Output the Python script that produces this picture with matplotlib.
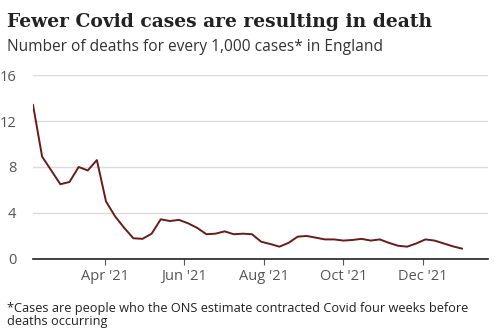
import numpy as np
import pandas as pd
import matplotlib
matplotlib.use("Agg")
import matplotlib.pyplot as plt
import matplotlib.dates as mdates

# weekly deaths per 1,000 cases, England
dates = pd.date_range("2021-02-05", periods=48, freq="7D")
deaths_per_1000 = [
    13.4, 8.9, 7.7, 6.5, 6.7, 8.0, 7.7, 8.6, 5.0, 3.7,
    2.7, 1.8, 1.75, 2.2, 3.45, 3.3, 3.4, 3.1, 2.7, 2.15,
    2.2, 2.4, 2.15, 2.2, 2.15, 1.5, 1.3, 1.07, 1.4, 1.94,
    2.0, 1.85, 1.7, 1.7, 1.6, 1.65, 1.75, 1.6, 1.7, 1.4,
    1.15, 1.07, 1.35, 1.7, 1.6, 1.35, 1.1, 0.9,
]
y_ticks = [0, 4, 8, 12, 16]
x_ticks = pd.to_datetime(["2021-04-01", "2021-06-01", "2021-08-01", "2021-10-01", "2021-12-01"])

sans = ["Open Sans", "DejaVu Sans"]

fig = plt.figure(figsize=(5, 3.32), dpi=100)
ax = fig.add_axes([0.066, 0.22, 0.91, 0.554])

ax.plot(dates, deaths_per_1000, color="#6b1a1a", lw=1.4, solid_joinstyle="round")

ax.set_ylim(0, 16)
ax.set_yticks(y_ticks)
ax.set_xlim(dates[0], pd.Timestamp("2022-01-20"))
ax.set_xticks(x_ticks)
ax.xaxis.set_major_formatter(mdates.DateFormatter("%b '%y"))

ax.grid(axis="y", color="#dcdcdc", lw=1)
ax.set_axisbelow(True)
for s in ["top", "right", "left"]:
    ax.spines[s].set_visible(False)
ax.spines["bottom"].set_color("#222222")
ax.spines["bottom"].set_linewidth(1.2)
ax.tick_params(axis="y", length=0, pad=12, labelsize=10.5, labelcolor="#555555")
ax.tick_params(axis="x", length=4, color="#555555", pad=3, labelsize=10.5, labelcolor="#555555")
for lbl in ax.get_xticklabels() + ax.get_yticklabels():
    lbl.set_family(sans)

fig.text(0.014, 0.935, "Fewer Covid cases are resulting in death", family="DejaVu Serif",
         weight="bold", fontsize=13.5, color="#222222", va="center")
fig.text(0.014, 0.857, "Number of deaths for every 1,000 cases* in England", family=sans,
         fontsize=11.2, color="#333333", va="center")
fig.text(0.014, 0.012, "*Cases are people who the ONS estimate contracted Covid four weeks before\ndeaths occurring",
         family=sans, fontsize=9.2, color="#222222", va="bottom", linespacing=1.0)

fig.savefig("out.png", dpi=100, facecolor="white")
